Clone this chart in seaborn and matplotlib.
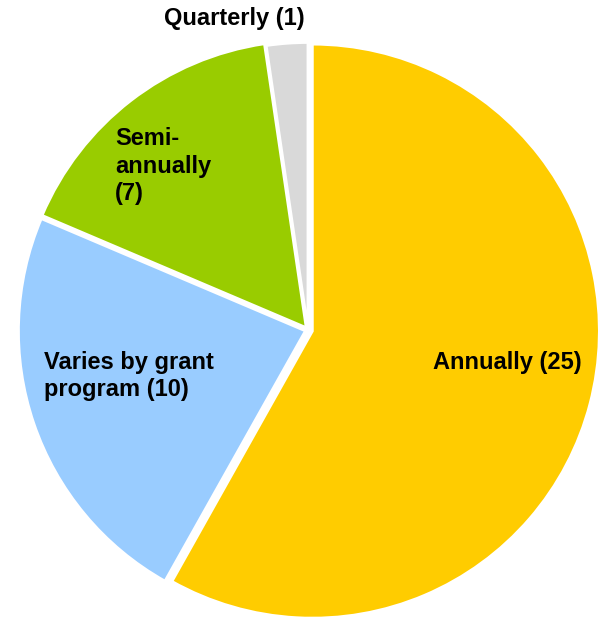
import matplotlib
matplotlib.use("Agg")
import matplotlib.pyplot as plt
import seaborn as sns

categories = ["Annually", "Varies by grant program", "Semi-annually", "Quarterly"]
values = [25, 10, 7, 1]
label_texts = ["Annually (25)", "Varies by grant\nprogram (10)", "Semi-\nannually\n(7)", "Quarterly (1)"]
colors = ["#FFCC00", "#99CCFF", "#99CC00", "#D9D9D9"]

sns.set_theme(style="white")
plt.rcParams["font.family"] = ["Liberation Sans", "DejaVu Sans"]

W, H = 599, 621
fig = plt.figure(figsize=(W / 100, H / 100), dpi=100)
ax = fig.add_axes([0, 0, 1, 1])

cx, cy = 308, H - 330
slice_offsets = [4.5, 2.7, 2.9, 0.5]
wedges, _ = ax.pie(
    values,
    colors=colors,
    startangle=90,
    counterclock=False,
    center=(cx, cy),
    radius=287,
    explode=slice_offsets,
    wedgeprops=dict(edgecolor="white", linewidth=2),
    frame=True,
)
ax.set_xlim(0, W)
ax.set_ylim(0, H)
ax.set_aspect("equal")
ax.axis("off")

fs = 17
lh = 1.23
ax.text(507, H - 363, label_texts[0], ha="center", va="center", fontsize=fs, fontweight="bold", color="black")
ax.text(44, H - 376, label_texts[1], ha="left", va="center", fontsize=fs, fontweight="bold", color="black", linespacing=lh)
ax.text(115, H - 166, label_texts[2], ha="left", va="center", fontsize=fs, fontweight="bold", color="black", linespacing=lh)
ax.text(234, H - 18, label_texts[3], ha="center", va="center", fontsize=fs, fontweight="bold", color="black")

fig.savefig("out.png", dpi=100)
